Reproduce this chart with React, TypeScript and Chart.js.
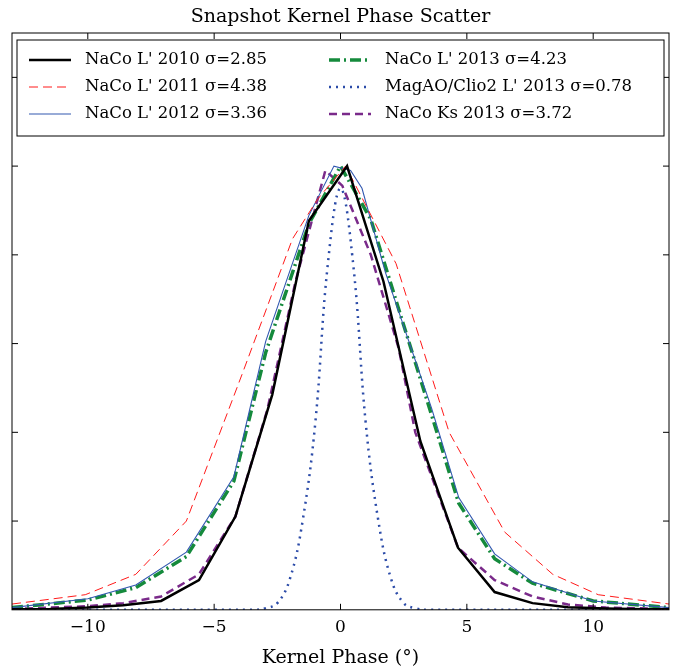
import React, { useEffect, useRef } from "react";
import { Chart, registerables } from "chart.js";
Chart.register(...registerables);

const xTicks = [-10, -5, 0, 5, 10];
const x2010 = [-13, -11.5, -10, -8.6, -7.1, -5.6, -4.16, -2.7, -1.25, 0.26, 1.7, 3.16, 4.65, 6.1, 7.6, 9.0, 10.5, 12, 13];
const y2010 = [0.001, 0.002, 0.005, 0.01, 0.02, 0.067, 0.21, 0.485, 0.877, 1.0, 0.74, 0.38, 0.14, 0.04, 0.015, 0.006, 0.003, 0.001, 0.001];
const x2011 = [-13, -10.1, -8.1, -6.1, -3.9, -1.9, -0.9, 0.2, 2.2, 4.3, 6.5, 8.4, 10.2, 13];
const y2011 = [0.013, 0.034, 0.08, 0.2, 0.53, 0.836, 0.926, 1.0, 0.78, 0.4, 0.175, 0.08, 0.034, 0.013];
const x2012 = [-13, -10, -8.1, -6.1, -4.22, -2.96, -1.25, -0.26, 0.4, 0.85, 1.78, 3.6, 4.68, 6.1, 7.6, 10, 13];
const y2012 = [0.005, 0.025, 0.056, 0.13, 0.3, 0.605, 0.889, 1.0, 0.99, 0.95, 0.76, 0.455, 0.253, 0.126, 0.063, 0.02, 0.005];
const x2013 = [-13, -10, -8.1, -6.1, -4.22, -2.96, -1.25, 0.0, 1.2, 2.4, 3.6, 4.68, 6.1, 7.6, 10, 13];
const y2013 = [0.005, 0.022, 0.05, 0.12, 0.29, 0.58, 0.87, 1.0, 0.88, 0.66, 0.44, 0.24, 0.115, 0.06, 0.02, 0.005];
const xMag = [-13, -3.5, -3, -2.5, -2, -1.5, -1, -0.5, 0, 0.5, 1, 1.5, 2, 2.5, 3, 3.5, 13];
const yMag = [0, 0, 0.003, 0.015, 0.07, 0.2, 0.42, 0.78, 0.95, 0.78, 0.42, 0.2, 0.07, 0.015, 0.003, 0, 0];
const xKs = [-13, -10, -8.6, -7.1, -5.6, -4.16, -2.9, -1.78, -0.6, 0.07, 1.2, 2.3, 2.96, 4.65, 6.1, 7.6, 9.0, 10.5, 13];
const yKs = [0.002, 0.008, 0.015, 0.03, 0.08, 0.21, 0.45, 0.74, 0.99, 0.956, 0.8, 0.59, 0.4, 0.14, 0.067, 0.03, 0.012, 0.005, 0.002];

const series = [
  { label: "NaCo L' 2010 σ=2.85", xs: x2010, ys: y2010, color: "#000000", width: 2.5, dash: [] as number[] },
  { label: "NaCo L' 2011 σ=4.38", xs: x2011, ys: y2011, color: "#ff1a1a", width: 1, dash: [9, 5] },
  { label: "NaCo L' 2012 σ=3.36", xs: x2012, ys: y2012, color: "#3258b0", width: 1.1, dash: [] },
  { label: "NaCo L' 2013 σ=4.23", xs: x2013, ys: y2013, color: "#158a3c", width: 3.5, dash: [11, 4, 2, 4] },
  { label: "MagAO/Clio2 L' 2013 σ=0.78", xs: xMag, ys: yMag, color: "#2b4ba8", width: 2.5, dash: [2, 5] },
  { label: "NaCo Ks 2013 σ=3.72", xs: xKs, ys: yKs, color: "#7a2a8a", width: 2.5, dash: [8, 5] },
];

const FONT = "'DejaVu Serif', 'Liberation Serif', serif";

export default function App() {
  const ref = useRef<HTMLCanvasElement>(null);
  useEffect(() => {
    const overlay = {
      id: "overlay",
      afterDraw(chart: any) {
        const ctx = chart.ctx;
        const a = chart.chartArea;
        const xs = chart.scales.x, ys = chart.scales.y;
        ctx.save();
        ctx.strokeStyle = "#000";
        ctx.lineWidth = 1;
        ctx.setLineDash([]);
        ctx.strokeRect(a.left, a.top, a.right - a.left, a.bottom - a.top);
        ctx.beginPath();
        for (const t of xTicks) {
          const p = xs.getPixelForValue(t);
          ctx.moveTo(p, a.bottom); ctx.lineTo(p, a.bottom - 6);
          ctx.moveTo(p, a.top); ctx.lineTo(p, a.top + 6);
        }
        for (let v = 0.2; v < 1.3; v += 0.2) {
          const p = ys.getPixelForValue(v);
          ctx.moveTo(a.left, p); ctx.lineTo(a.left + 6, p);
          ctx.moveTo(a.right, p); ctx.lineTo(a.right - 6, p);
        }
        ctx.stroke();
        ctx.fillStyle = "#000";
        ctx.font = "19px " + FONT;
        ctx.textAlign = "center";
        ctx.textBaseline = "middle";
        ctx.fillText("Snapshot Kernel Phase Scatter", (a.left + a.right) / 2, 17);
        const lx = 17, ly = 40, lw = 647, lh = 96;
        ctx.fillStyle = "#fff";
        ctx.fillRect(lx, ly, lw, lh);
        ctx.strokeRect(lx, ly, lw, lh);
        ctx.font = "16.5px " + FONT;
        ctx.textAlign = "left";
        series.forEach((s, i) => {
          const col = Math.floor(i / 3), row = i % 3;
          const x0 = lx + 12 + col * 300, y0 = ly + 20 + row * 27;
          ctx.beginPath();
          ctx.strokeStyle = s.color; ctx.lineWidth = s.width; ctx.setLineDash(s.dash);
          ctx.moveTo(x0, y0); ctx.lineTo(x0 + 42, y0); ctx.stroke();
          ctx.fillStyle = "#000";
          ctx.fillText(s.label, x0 + 56, y0);
        });
        ctx.restore();
      },
    };
    const chart = new Chart(ref.current!, {
      type: "line",
      data: {
        datasets: series.map((s) => ({
          label: s.label,
          data: s.xs.map((x, i) => ({ x, y: s.ys[i] })),
          borderColor: s.color,
          borderWidth: s.width,
          borderDash: s.dash,
          pointRadius: 0,
          fill: false,
          tension: s.xs === xMag ? 0.4 : 0,
        })),
      },
      options: {
        animation: false,
        responsive: false,
        layout: { padding: { top: 33, left: 12, right: 11, bottom: 0 } },
        plugins: { legend: { display: false }, title: { display: false }, tooltip: { enabled: false } },
        scales: {
          x: {
            type: "linear", min: -13, max: 13,
            afterBuildTicks: (sc: any) => { sc.ticks = xTicks.map((v) => ({ value: v })); },
            grid: { display: false, drawTicks: false },
            border: { display: false },
            ticks: { color: "#000", padding: 8, font: { family: FONT, size: 17 }, callback: (v: any) => (v < 0 ? "−" + Math.abs(v) : String(v)) },
            title: { display: true, text: "Kernel Phase (°)", color: "#000", font: { family: FONT, size: 19 }, padding: { top: 0, bottom: 0 } },
          },
          y: { display: false, min: 0, max: 1.3 },
        },
      },
      plugins: [overlay],
    });
    return () => chart.destroy();
  }, []);
  return (
    <div style={{ position: "fixed", left: 0, top: 0 }}>
      <canvas ref={ref} width={680} height={669} style={{ width: 680, height: 669 }} />
    </div>
  );
}
